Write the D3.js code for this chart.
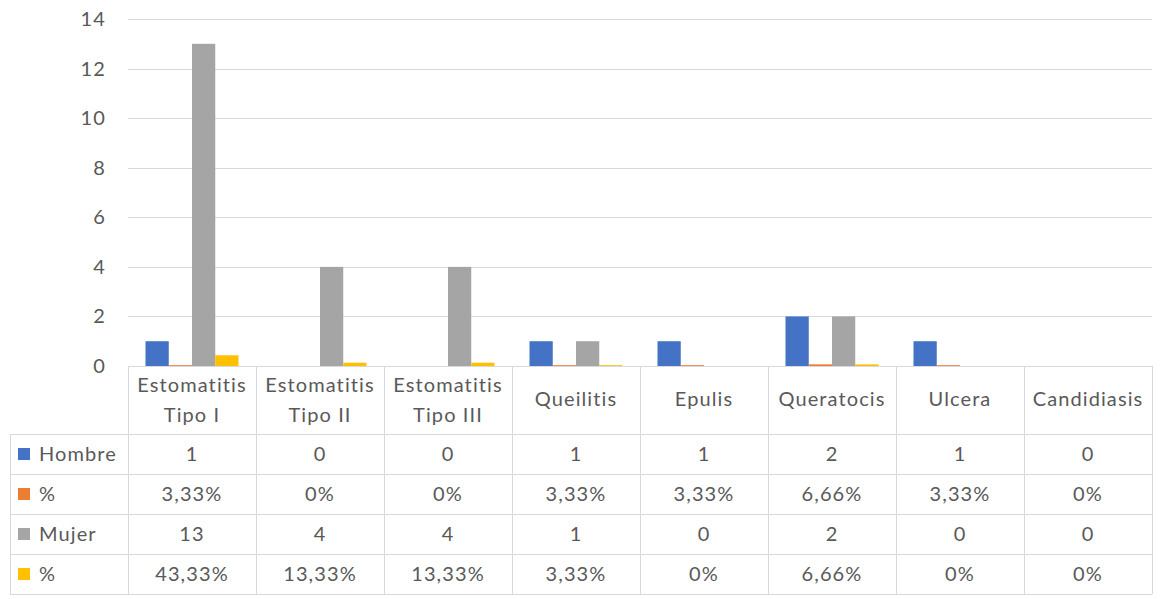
<!DOCTYPE html>
<html>
<head>
<meta charset="utf-8">
<script src="https://cdn.jsdelivr.net/npm/d3@7"></script>
<style>
  body { margin: 0; background: #fff; }
  text { font-family: Lato, "Liberation Sans", sans-serif; fill: #595959; font-size: 20px; letter-spacing: 1.1px; }
</style>
</head>
<body>
<div id="chart"></div>
<script>
// categories (two header lines each)
var categories = [
  ["Estomatitis", "Tipo I"],
  ["Estomatitis", "Tipo II"],
  ["Estomatitis", "Tipo III"],
  ["Queilitis"],
  ["Epulis"],
  ["Queratocis"],
  ["Ulcera"],
  ["Candidiasis"]
];
var hombre    = [1, 0, 0, 1, 1, 2, 1, 0];
var hombrePct = [0.0333, 0, 0, 0.0333, 0.0333, 0.0666, 0.0333, 0];
var mujer     = [13, 4, 4, 1, 0, 2, 0, 0];
var mujerPct  = [0.4333, 0.1333, 0.1333, 0.0333, 0, 0.0666, 0, 0];
var yTicks = [0, 2, 4, 6, 8, 10, 12, 14];

var series = [
  { name: "Hombre", values: hombre,    color: "#4472C4", pct: false },
  { name: "%",      values: hombrePct, color: "#ED7D31", pct: true },
  { name: "Mujer",  values: mujer,     color: "#A5A5A5", pct: false },
  { name: "%",      values: mujerPct,  color: "#FFC000", pct: true }
];

var width = 1160, height = 599;
var plotLeft = 128, plotRight = 1152, plotTop = 19, plotBottom = 366;
var headerH = 68, rowH = 40, tableLeft = 10;
var gridColor = "#D9D9D9";

function fmtPct(v) {
  if (v === 0) return "0%";
  return (v * 100).toFixed(2).replace(".", ",") + "%";
}

var svg = d3.select("#chart").append("svg")
    .attr("width", width)
    .attr("height", height);

var x = d3.scaleBand()
    .domain(d3.range(categories.length))
    .range([plotLeft, plotRight])
    .padding(0);

var xs = d3.scaleBand()
    .domain(d3.range(series.length))
    .range([17.5, x.bandwidth() - 17.5])
    .padding(0);

var y = d3.scaleLinear()
    .domain([0, 14])
    .range([plotBottom, plotTop]);

// gridlines
svg.append("g")
  .selectAll("line")
  .data(yTicks.filter(function(d){ return d > 0; }))
  .enter().append("line")
    .attr("x1", plotLeft).attr("x2", plotRight)
    .attr("y1", function(d){ return Math.round(y(d)) + 0.5; })
    .attr("y2", function(d){ return Math.round(y(d)) + 0.5; })
    .attr("stroke", gridColor)
    .attr("stroke-width", 1);

// y tick labels
svg.append("g")
  .selectAll("text")
  .data(yTicks)
  .enter().append("text")
    .attr("x", 106)
    .attr("y", function(d){ return y(d); })
    .attr("dy", "0.35em")
    .attr("text-anchor", "end")
    .text(function(d){ return d; });

// bars
var groups = svg.append("g")
  .selectAll("g")
  .data(categories)
  .enter().append("g")
    .attr("transform", function(d, i){ return "translate(" + x(i) + ",0)"; });

groups.selectAll("rect")
  .data(function(d, i){
    return series.map(function(s, j){ return { j: j, v: s.values[i], color: s.color }; });
  })
  .enter().append("rect")
    .attr("x", function(d){ return xs(d.j); })
    .attr("width", xs.bandwidth())
    .attr("y", function(d){ return y(d.v); })
    .attr("height", function(d){ return y(0) - y(d.v); })
    .attr("fill", function(d){ return d.color; });

// data table
var table = svg.append("g");
var tableBottom = plotBottom + headerH + rowH * series.length;

// horizontal lines
table.append("line")
  .attr("x1", plotLeft).attr("x2", plotRight)
  .attr("y1", plotBottom + 0.5).attr("y2", plotBottom + 0.5)
  .attr("stroke", gridColor);
d3.range(series.length + 1).forEach(function(r){
  var yy = plotBottom + headerH + r * rowH + 0.5;
  table.append("line")
    .attr("x1", tableLeft).attr("x2", plotRight)
    .attr("y1", yy).attr("y2", yy)
    .attr("stroke", gridColor);
});

// vertical lines
table.append("line")
  .attr("x1", tableLeft + 0.5).attr("x2", tableLeft + 0.5)
  .attr("y1", plotBottom + headerH).attr("y2", tableBottom)
  .attr("stroke", gridColor);
d3.range(categories.length + 1).forEach(function(c){
  var xx = plotLeft + c * x.bandwidth() + 0.5;
  table.append("line")
    .attr("x1", xx).attr("x2", xx)
    .attr("y1", plotBottom).attr("y2", tableBottom)
    .attr("stroke", gridColor);
});

// header labels
categories.forEach(function(lines, i){
  var cx = x(i) + x.bandwidth() / 2;
  lines.forEach(function(t, k){
    var cy = lines.length === 1 ? plotBottom + headerH / 2 - 1
                                : plotBottom + 19 + k * 30;
    table.append("text")
      .attr("x", cx).attr("y", cy)
      .attr("dy", "0.35em")
      .attr("text-anchor", "middle")
      .text(t);
  });
});

// rows
series.forEach(function(s, r){
  var cy = plotBottom + headerH + r * rowH + rowH / 2;
  table.append("rect")
    .attr("x", 18).attr("y", cy - 6)
    .attr("width", 12).attr("height", 12)
    .attr("fill", s.color);
  table.append("text")
    .attr("x", 39).attr("y", cy)
    .attr("dy", "0.35em")
    .text(s.name);
  s.values.forEach(function(v, i){
    table.append("text")
      .attr("x", x(i) + x.bandwidth() / 2).attr("y", cy)
      .attr("dy", "0.35em")
      .attr("text-anchor", "middle")
      .text(s.pct ? fmtPct(v) : v);
  });
});
</script>
</body>
</html>
